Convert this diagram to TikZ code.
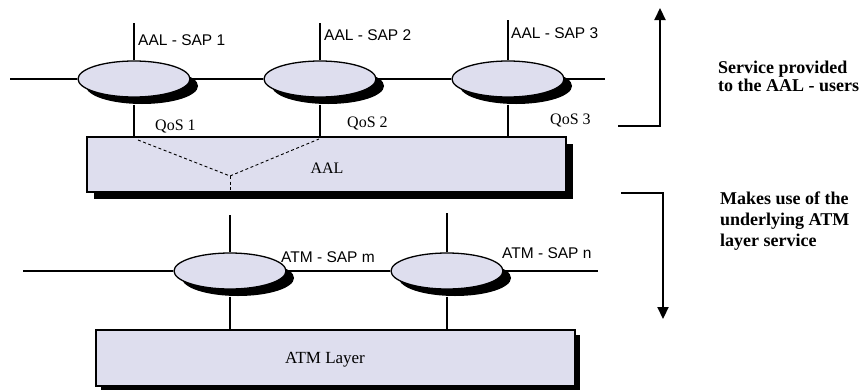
\documentclass[tikz,border=0pt]{standalone}
\usepackage{fontspec}
\setmainfont{Liberation Serif}
\newfontfamily\saplabel{Liberation Sans}
\usetikzlibrary{shapes.geometric,arrows.meta}
\definecolor{lav}{RGB}{222,222,238}
\begin{document}
\begin{tikzpicture}[x=1pt,y=-1pt,
  sapell/.style={ellipse,draw=black,line width=1.3pt,fill=lav,minimum width=112pt,minimum height=36pt,inner sep=0pt},
  layerbox/.style={rectangle,draw=black,line width=1.2pt,fill=lav,inner sep=0pt},
  wire/.style={draw=black,line width=1.4pt},
  saptxt/.style={anchor=west,inner sep=0pt,font=\saplabel\fontsize{15.5}{18}\selectfont},
  qostxt/.style={anchor=west,inner sep=0pt,font=\fontsize{16}{18}\selectfont},
  sidetxt/.style={anchor=north west,inner sep=0pt,align=left,font=\bfseries\fontsize{18}{15.5}\selectfont},
  bigarrow/.style={draw=black,line width=2.2pt,-{Triangle[length=12pt,width=11pt]}},
]
\useasboundingbox (0,0) rectangle (868,389);

% ---------- shadows (drawn as filled black shapes behind) ----------
\fill[black] (94,144) rectangle (573,199);
\fill[black] (101,335) rectangle (580,392);
\fill[black] (142,86) circle [x radius=56, y radius=18];
\fill[black] (328,86) circle [x radius=56, y radius=18];
\fill[black] (516,86) circle [x radius=56, y radius=18];
\fill[black] (238,278) circle [x radius=56, y radius=18];
\fill[black] (455,278) circle [x radius=56, y radius=18];

% ---------- AAL layer ----------
\node[layerbox,minimum width=479pt,minimum height=55pt] (aal) at (326.5,164.5) {};
\node[qostxt,anchor=center] (aallbl) at (327,168) {AAL};

\node[sapell] (e1) at (134,79) {};
\node[sapell] (e2) at (320,79) {};
\node[sapell] (e3) at (508,79) {};

\coordinate (l1) at (10,79);
\coordinate (r3) at (605,79);
\coordinate (t1) at (134,23);
\coordinate (t2) at (320,23);
\coordinate (t3) at (508,20);

\draw[wire] (l1) -- (e1.west);
\draw[wire] (e1.east) -- (e2.west);
\draw[wire] (e2.east) -- (e3.west);
\draw[wire] (e3.east) -- (r3);
\draw[wire] (e1.north) -- (t1);
\draw[wire] (e2.north) -- (t2);
\draw[wire] (e3.north) -- (t3);
\draw[wire] (e1.south) ++(0,7) -- (e1.south |- aal.north);
\draw[wire] (e2.south) ++(0,7) -- (e2.south |- aal.north);
\draw[wire] (e3.south) ++(0,7) -- (e3.south |- aal.north);

\node[saptxt] (s1) at (138,40) {AAL - SAP 1};
\node[saptxt] (s2) at (324,35) {AAL - SAP 2};
\node[saptxt] (s3) at (511,33) {AAL - SAP 3};

\node[qostxt] (q1) at (155,126) {QoS 1};
\node[qostxt] (q2) at (347,123) {QoS 2};
\node[qostxt] (q3) at (550,120) {QoS 3};

\coordinate (d1) at (138,140);
\coordinate (dm) at (230,176);
\coordinate (d2) at (319,139);
\coordinate (db) at (230,190);
\draw[line width=0.9pt,dash pattern=on 3pt off 2.5pt] (d1) -- (dm) -- (d2);
\draw[line width=0.9pt,dash pattern=on 3pt off 2.5pt] (dm) -- (db);

% ---------- ATM layer ----------
\node[layerbox,minimum width=479pt,minimum height=56pt] (atm) at (335.5,358) {};
\node[qostxt,anchor=center,font=\fontsize{17}{18}\selectfont] (atmlbl) at (325,360) {ATM Layer};

\node[sapell] (em) at (230,271) {};
\node[sapell] (en) at (447,271) {};

\coordinate (lm) at (23,271);
\coordinate (rn) at (598,271);
\coordinate (tm) at (230,215);
\coordinate (tn) at (447,213);

\draw[wire] (lm) -- (em.west);
\draw[wire] (em.east) -- (en.west);
\draw[wire] (en.east) -- (rn);
\draw[wire] (em.north) -- (tm);
\draw[wire] (en.north) -- (tn);
\draw[wire] (em.south) ++(0,7) -- (em.south |- atm.north);
\draw[wire] (en.south) ++(0,7) -- (en.south |- atm.north);

\node[saptxt] (sm) at (281,257) {ATM - SAP m};
\node[saptxt] (sn) at (502,253) {ATM - SAP n};

% ---------- side arrows ----------
\coordinate (ua) at (618,126);
\coordinate (ub) at (660,8);
\coordinate (da) at (621,193);
\coordinate (dbt) at (663,319);
\draw[bigarrow] (ua) -| (ub);
\draw[bigarrow] (da) -| (dbt);

\node[sidetxt] (svc) at (718,61) {Service provided\\to the AAL - users};
\node[sidetxt,font=\bfseries\fontsize{18}{21}\selectfont] (mk) at (720,192) {Makes use of the\\underlying ATM\\layer service};
\end{tikzpicture}
\end{document}
